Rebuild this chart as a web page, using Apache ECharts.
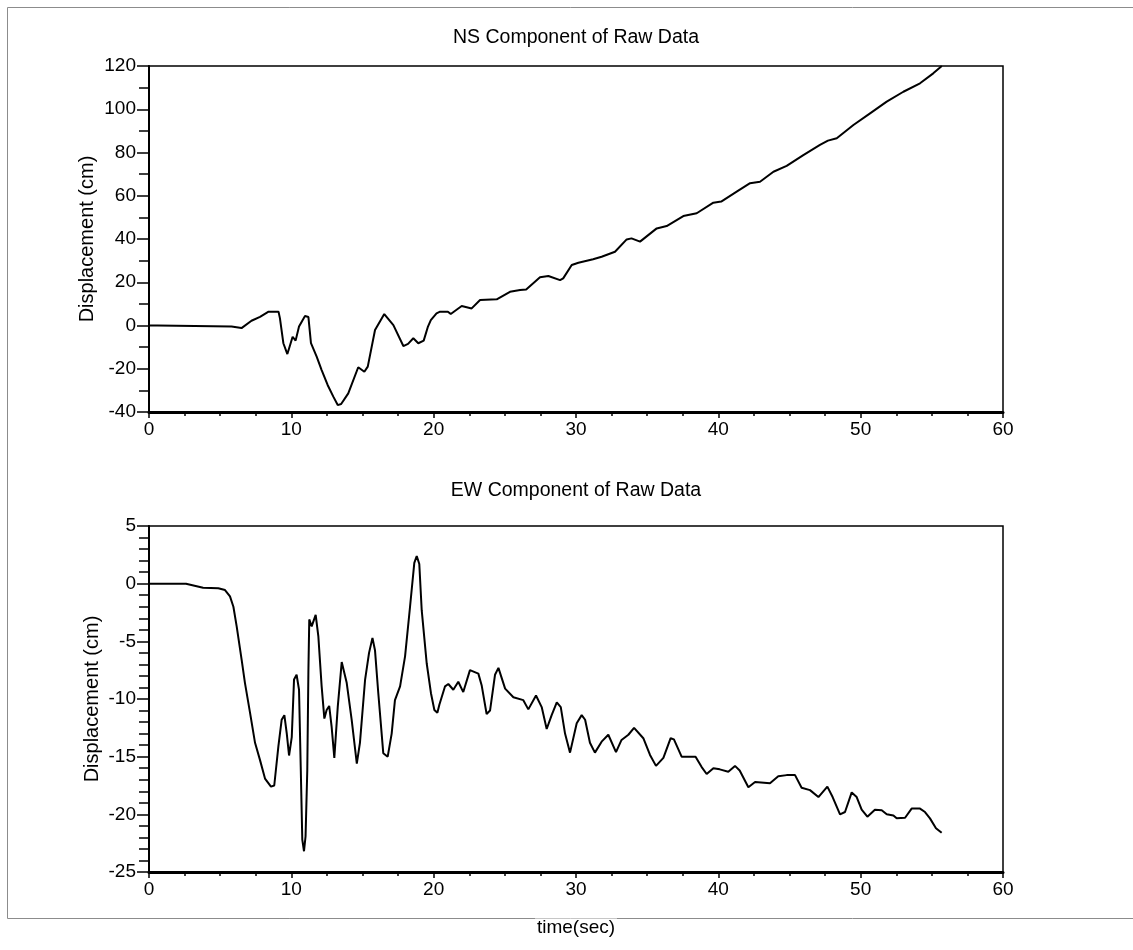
<!DOCTYPE html>
<html>
<head>
<meta charset="utf-8">
<script src="https://cdn.jsdelivr.net/npm/echarts@6/dist/echarts.min.js"></script>
<style>
html,body{margin:0;padding:0;background:#fff;}
#chart{width:1133px;height:950px;}
</style>
</head>
<body>
<div id="chart"></div>
<script>
// ---- Data ----
var nsTime = [0,0.6,0.7,5.8,5.9,6.5,7.2,7.8,8.4,9.1,9.2,9.44,9.72,9.84,10.09,10.3,10.54,10.75,10.96,11.2,11.38,11.78,12.13,12.55,12.95,13.26,13.5,14.0,14.7,15.13,15.37,15.88,16.53,17.17,17.87,18.2,18.57,18.92,19.3,19.6,19.8,20.2,20.45,21.0,21.2,21.97,22.67,23.26,24.43,25.36,26.07,26.5,27.47,28.06,28.88,29.1,29.7,30.17,31.2,31.8,32.74,33.56,33.9,34.5,35.67,36.37,37.54,38.48,39.65,40.2,41.29,42.23,42.93,43.87,44.8,45.97,47.14,47.7,48.32,49.49,50.66,51.83,53.0,54.17,55.1,55.7];
var nsDisp = [0,0,-0.5,-0.5,-1.2,-1.2,2.2,4.0,6.4,6.4,3.3,-8.2,-13.2,-10.6,-5.2,-7.0,-0.5,2,4.4,3.9,-8.2,-14.4,-20.6,-27.5,-32.9,-36.8,-36.3,-31.4,-19.3,-21.4,-19,-2.1,5.3,0.2,-9.5,-8.5,-5.9,-8.2,-7.0,-0.5,2.5,5.6,6.4,6.4,5.3,9.0,7.9,11.8,12.1,15.6,16.4,16.7,22.3,22.9,21.0,21.8,28.0,29.0,30.6,31.8,34.1,39.8,40.3,38.8,44.9,46.0,50.6,51.9,56.8,57.3,61.9,65.8,66.5,71.1,73.8,78.8,83.5,85.5,86.6,92.7,98.1,103.5,108.1,112.0,116.6,120];

var ewTime = [0,2.6,2.65,3.8,4.87,5.34,5.69,5.93,6.16,6.51,6.74,7.1,7.45,7.8,8.15,8.57,8.8,9.09,9.32,9.51,9.68,9.84,10.03,10.19,10.37,10.54,10.66,10.77,10.89,11.0,11.12,11.2,11.26,11.43,11.71,11.9,12.13,12.32,12.48,12.66,12.83,13.02,13.26,13.54,13.89,14.24,14.6,14.82,15.18,15.46,15.7,15.88,16.11,16.46,16.77,17.05,17.28,17.64,17.99,18.34,18.64,18.81,18.99,19.16,19.51,19.81,20.05,20.26,20.4,20.8,21.03,21.38,21.73,22.08,22.55,23.14,23.37,23.72,23.96,24.31,24.55,25.02,25.6,26.3,26.65,27.19,27.59,27.94,28.29,28.65,28.93,29.23,29.58,30.05,30.4,30.64,30.98,31.33,31.8,32.27,32.81,33.2,33.68,34.08,34.73,35.2,35.62,36.14,36.65,36.88,37.42,38.4,38.83,39.18,39.65,40.1,40.7,41.17,41.5,42.11,42.58,43.63,44.21,44.8,45.39,45.85,46.44,47.03,47.66,48.03,48.55,48.9,49.37,49.72,50.07,50.47,51.0,51.48,51.83,52.3,52.53,53.12,53.58,54.17,54.52,54.87,55.29,55.69];
var ewDisp = [0,0,-0.17,-0.35,-0.4,-0.55,-1.1,-2.0,-3.7,-6.6,-8.6,-11.2,-13.8,-15.3,-16.9,-17.6,-17.5,-14.1,-11.8,-11.4,-13.0,-14.9,-13.3,-8.3,-7.9,-9.2,-15.9,-22.2,-23.2,-21.9,-16.2,-7.5,-3.1,-3.7,-2.7,-4.6,-8.9,-11.7,-10.95,-10.6,-12.4,-15.1,-10.7,-6.8,-8.6,-11.8,-15.6,-13.8,-8.35,-6.0,-4.7,-5.8,-9.5,-14.7,-15.0,-13.0,-10.1,-8.9,-6.3,-2.0,1.8,2.4,1.7,-2.3,-6.9,-9.5,-10.95,-11.2,-10.5,-8.9,-8.7,-9.2,-8.5,-9.4,-7.5,-7.8,-8.8,-11.3,-11.0,-7.9,-7.3,-9.1,-9.85,-10.1,-10.9,-9.7,-10.7,-12.6,-11.4,-10.3,-10.7,-13.0,-14.65,-12.1,-11.4,-11.8,-13.8,-14.65,-13.7,-13.1,-14.6,-13.55,-13.1,-12.5,-13.4,-14.85,-15.8,-15.1,-13.4,-13.5,-15.0,-15.0,-15.9,-16.5,-16.0,-16.1,-16.3,-15.8,-16.2,-17.65,-17.2,-17.3,-16.7,-16.6,-16.6,-17.7,-17.9,-18.5,-17.6,-18.5,-20.0,-19.8,-18.1,-18.5,-19.6,-20.2,-19.6,-19.65,-20.0,-20.1,-20.35,-20.3,-19.5,-19.5,-19.8,-20.35,-21.2,-21.6];

var titles = ['NS Component of Raw Data', 'EW Component of Raw Data'];
var yName = 'Displacement (cm)';
var xName = 'time(sec)';
var xTicks = {min: 0, max: 60, interval: 10};
var nsTicks = {min: -40, max: 120, interval: 20};
var ewTicks = {min: -25, max: 5, interval: 5};

function zip(a, b) { return a.map(function (v, i) { return [v, b[i]]; }); }

var FONT = "'Liberation Sans', Arial, sans-serif";
var chart = echarts.init(document.getElementById('chart'), null, {renderer: 'canvas'});

function xAxisCfg(gi) {
  return {
    type: 'value', gridIndex: gi, min: xTicks.min, max: xTicks.max, interval: xTicks.interval,
    axisLine: {show: true, onZero: false, lineStyle: {color: '#000', width: 3}},
    axisTick: {show: true, inside: false, length: 6, lineStyle: {color: '#000', width: 1.5}},
    minorTick: {show: true, splitNumber: 4, length: 4, lineStyle: {color: '#000', width: 1.5}},
    axisLabel: {color: '#000', fontSize: 19, fontFamily: FONT, margin: 8},
    splitLine: {show: false}
  };
}
function yAxisCfg(gi, t, minorSplit, gap) {
  return {
    type: 'value', gridIndex: gi, min: t.min, max: t.max, interval: t.interval,
    name: yName, nameLocation: 'middle', nameGap: gap, nameMoveOverlap: false,
    nameTextStyle: {color: '#000', fontSize: 20, fontFamily: FONT},
    axisLine: {show: true, onZero: false, lineStyle: {color: '#000', width: 2}},
    axisTick: {show: true, inside: false, length: 12, lineStyle: {color: '#000', width: 1.5}},
    minorTick: {show: true, splitNumber: minorSplit, length: 10, lineStyle: {color: '#000', width: 1.5}},
    axisLabel: {color: '#000', fontSize: 19, fontFamily: FONT, margin: 13},
    splitLine: {show: false}
  };
}

var option = {
  backgroundColor: '#fff',
  animation: false,
  title: [
    {text: titles[0], left: 571, top: 23, textAlign: 'center',
     textStyle: {color: '#000', fontSize: 19.5, fontWeight: 'normal', fontFamily: FONT}},
    {text: titles[1], left: 571, top: 476, textAlign: 'center',
     textStyle: {color: '#000', fontSize: 19.5, fontWeight: 'normal', fontFamily: FONT}}
  ],
  grid: [
    {left: 149, top: 66, width: 854, height: 346, show: true, borderColor: '#000', borderWidth: 1.5, backgroundColor: 'transparent'},
    {left: 149, top: 526, width: 854, height: 346, show: true, borderColor: '#000', borderWidth: 1.5, backgroundColor: 'transparent'}
  ],
  xAxis: [xAxisCfg(0), xAxisCfg(1)],
  yAxis: [yAxisCfg(0, nsTicks, 2, 52), yAxisCfg(1, ewTicks, 5, 47)],
  series: [
    {type: 'line', xAxisIndex: 0, yAxisIndex: 0, data: zip(nsTime, nsDisp), showSymbol: false,
     lineStyle: {color: '#000', width: 2}, clip: true},
    {type: 'line', xAxisIndex: 1, yAxisIndex: 1, data: zip(ewTime, ewDisp), showSymbol: false,
     lineStyle: {color: '#000', width: 2}, clip: true}
  ],
  graphic: [
    {type: 'rect', shape: {x: 7.5, y: 7.5, width: 1140, height: 911}, silent: true, z: -10,
     style: {fill: 'none', stroke: '#8c8c8c', lineWidth: 1}},
    {type: 'text', x: 576, y: 928, silent: true,
     style: {text: xName, fill: '#000', font: '19px ' + FONT, textAlign: 'center', textVerticalAlign: 'middle',
             backgroundColor: '#fff', padding: [0, 2]}}
  ]
};
chart.setOption(option);
</script>
</body>
</html>
